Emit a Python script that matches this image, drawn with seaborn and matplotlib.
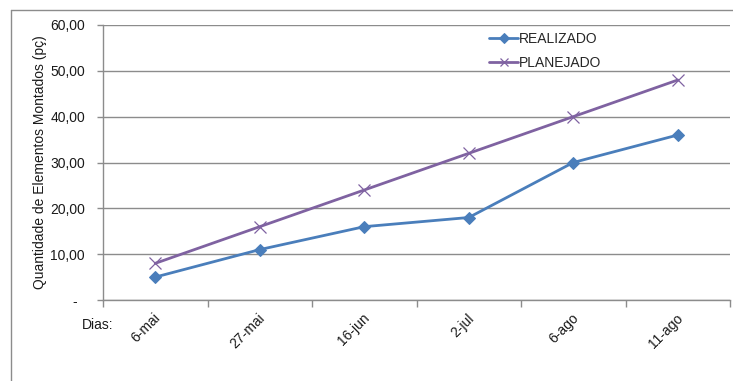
import matplotlib
matplotlib.use("Agg")
import matplotlib.pyplot as plt
from matplotlib.lines import Line2D
from matplotlib.ticker import FuncFormatter
import matplotlib.transforms as mtrans
import seaborn as sns
import pandas as pd

datas = ["6-mai", "27-mai", "16-jun", "2-jul", "6-ago", "11-ago"]
realizado = [5, 11, 16, 18, 30, 36]
planejado = [8, 16, 24, 32, 40, 48]
y_ticks = [0, 10, 20, 30, 40, 50, 60]

sns.set_theme(style="white")
plt.rcParams["font.family"] = ["Liberation Sans", "DejaVu Sans"]
plt.rcParams["font.size"] = 10

W, H = 733, 381
fig = plt.figure(figsize=(W / 100, H / 100), dpi=100)
ax = fig.add_axes([103 / W, 81 / H, 627 / W, 275 / H])

df = pd.DataFrame({"Dias": datas, "REALIZADO": realizado, "PLANEJADO": planejado})
blue = "#4A7EBB"
purple = "#7F62A1"
text_c = "#1A1A1A"
grid_c = "#8C8C8C"

sns.lineplot(data=df, x="Dias", y="REALIZADO", ax=ax, color=blue, lw=2.0,
             marker="D", markersize=6, markeredgecolor=blue, label="REALIZADO", sort=False)
sns.lineplot(data=df, x="Dias", y="PLANEJADO", ax=ax, color=purple, lw=2.0,
             marker="x", markersize=8, markeredgewidth=0.9, markeredgecolor=purple,
             label="PLANEJADO", sort=False)

ax.set_xlim(-0.5, len(datas) - 0.5)
ax.set_ylim(0, 60)
ax.set_yticks(y_ticks)
ax.yaxis.set_major_formatter(FuncFormatter(
    lambda v, p: "-  " if v == 0 else f"{v:.2f}".replace(".", ",")))
ax.grid(axis="y", color=grid_c, lw=1.0)
ax.grid(axis="x", visible=False)
ax.set_axisbelow(True)

for s in ["top", "right"]:
    ax.spines[s].set_visible(False)
for s in ["left", "bottom"]:
    ax.spines[s].set_color(grid_c)
    ax.spines[s].set_linewidth(1.0)

# category labels rotated 45°, boundary tick marks below the axis
ax.set_xticks(range(len(datas)))
ax.tick_params(axis="x", length=0, labelbottom=False)
offset = mtrans.ScaledTranslation(3 / 100, -16 / 100, fig.dpi_scale_trans)
xform = ax.get_xaxis_transform() + offset
for i, d in enumerate(datas):
    ax.text(i, 0, d, transform=xform, rotation=45, ha="right", va="center",
            rotation_mode="anchor", fontsize=10, color=text_c, clip_on=False)
ax.set_xticks([i - 0.5 for i in range(len(datas) + 1)], minor=True)
ax.tick_params(axis="x", which="minor", bottom=True, length=5, width=1.0, color=grid_c)
ax.tick_params(axis="y", left=True, length=4, width=1.0, color=grid_c,
               labelsize=10, labelcolor=text_c, pad=9)

ax.set_xlabel("")
ax.set_ylabel("Quantidade de Elementos Montados (pç)", fontsize=10, color=text_c)
ax.yaxis.set_label_coords((40 - 103) / 627, 0.5)
ax.yaxis.label.set_va("center")

fig.text(82 / W, 1 - 325 / H, "Dias:", fontsize=10, color=text_c,
         ha="left", va="center")

ax.legend(loc="upper left", bbox_to_anchor=(386 / 627, 1 - 7 / 275), frameon=False,
          handlelength=2.1, handletextpad=0.05, labelspacing=0.72, fontsize=10,
          borderaxespad=0, borderpad=0, markerscale=0.8)

# outer chart frame
fig.add_artist(Line2D([11 / W, 1.0], [1 - 10 / H] * 2, color=grid_c, lw=1.0,
                      transform=fig.transFigure))
fig.add_artist(Line2D([11 / W] * 2, [0, 1 - 10 / H], color=grid_c, lw=1.0,
                      transform=fig.transFigure))

fig.savefig("out.png", dpi=100)
